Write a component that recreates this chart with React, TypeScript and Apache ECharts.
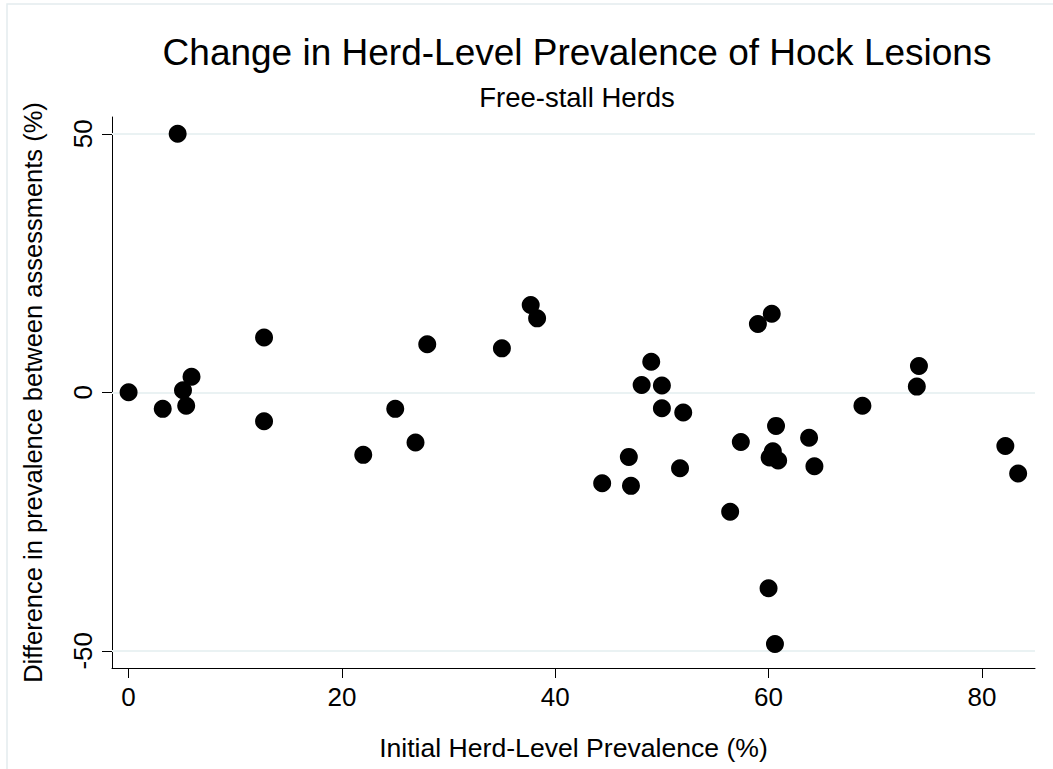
import React, { useEffect, useRef } from "react";
import * as echarts from "echarts";

// Initial herd-level prevalence (%) of hock lesions
const initialPrevalence = [
  0, 3.2, 4.6, 5.1, 5.4, 5.9, 12.7, 12.7, 22.0, 25.0, 26.9, 28.0, 35.0, 37.7, 38.3,
  44.4, 46.9, 47.1, 48.1, 49.0, 50.0, 50.0, 51.7, 52.0, 56.4, 57.4, 59.0, 60.3, 60.0,
  60.6, 60.7, 60.1, 60.4, 60.9, 63.8, 64.3, 68.8, 73.9, 74.1, 82.2, 83.4,
];
// Difference in prevalence between assessments (%)
const prevalenceChange = [
  0, -3.2, 50, 0.4, -2.6, 3.0, 10.6, -5.6, -12.1, -3.2, -9.7, 9.3, 8.5, 16.9, 14.3,
  -17.6, -12.5, -18.1, 1.4, 5.9, 1.3, -3.1, -14.7, -3.9, -23.1, -9.6, 13.2, 15.2, -37.9,
  -48.7, -6.5, -12.6, -11.4, -13.2, -8.8, -14.3, -2.6, 1.1, 5.1, -10.4, -15.7,
];
const xTicks = [0, 20, 40, 60, 80];
const yTicks = [-50, 0, 50];
const yGridLines = [-50, 0, 50];

const titleText = "Change in Herd-Level Prevalence of Hock Lesions";
const subtitleText = "Free-stall Herds";
const xTitle = "Initial Herd-Level Prevalence (%)";
const yTitle = "Difference in prevalence between assessments (%)";

const FONT = '"Liberation Sans", Arial, Helvetica, sans-serif';

export default function App() {
  const ref = useRef<HTMLDivElement>(null);
  useEffect(() => {
    if (!ref.current) return;
    const chart = echarts.init(ref.current, undefined, { renderer: "svg" });
    chart.setOption({
      animation: false,
      backgroundColor: "#ffffff",
      textStyle: { fontFamily: FONT, color: "#000" },
      grid: { left: 112, right: 18, top: 117, bottom: 101, containLabel: false },
      xAxis: {
        type: "value",
        min: -1.556,
        max: 84.98,
        name: xTitle,
        nameLocation: "middle",
        nameGap: 66,
        nameTextStyle: { fontSize: 26.6, color: "#000", fontFamily: FONT },
        axisLine: { show: true, onZero: false, lineStyle: { color: "#000", width: 1 } },
        axisTick: { show: true, length: 10, customValues: xTicks, lineStyle: { color: "#000", width: 1 } },
        axisLabel: { customValues: xTicks, fontSize: 26, color: "#000", margin: 16, fontFamily: FONT },
        splitLine: { show: false },
      },
      yAxis: {
        type: "value",
        min: -53.33,
        max: 53.25,
        name: yTitle,
        nameLocation: "middle",
        nameGap: 66,
        nameTextStyle: { fontSize: 25.5, color: "#000", fontFamily: FONT },
        axisLine: { show: true, onZero: false, lineStyle: { color: "#000", width: 1 } },
        axisTick: { show: true, length: 10, customValues: yTicks, lineStyle: { color: "#000", width: 1 } },
        axisLabel: { customValues: yTicks, rotate: 90, fontSize: 26, color: "#000", margin: 16, fontFamily: FONT },
        splitLine: { show: false },
      },
      graphic: [
        {
          type: "rect",
          silent: true,
          z: -10,
          shape: { x: 7, y: 4, width: 1200, height: 1000 },
          style: { fill: "none", stroke: "#e4ecee", lineWidth: 1.5 },
        },
        {
          type: "text",
          x: 577,
          y: 52,
          style: {
            text: titleText,
            fill: "#000",
            font: `normal 37px ${FONT}`,
            align: "center",
            verticalAlign: "middle",
          },
        },
        {
          type: "text",
          x: 577,
          y: 97,
          style: {
            text: subtitleText,
            fill: "#000",
            font: `normal 27.5px ${FONT}`,
            align: "center",
            verticalAlign: "middle",
          },
        },
      ],
      series: [
        {
          type: "line",
          data: [],
          z: 1,
          silent: true,
          markLine: {
            z: 1,
            silent: true,
            symbol: ["none", "none"],
            label: { show: false },
            lineStyle: { color: "#eaf2f3", width: 2, type: "solid" },
            data: yGridLines.map((v) => ({ yAxis: v })),
          },
        },
        {
          type: "scatter",
          z: 10,
          symbol: "circle",
          symbolSize: 18,
          itemStyle: { color: "#000", opacity: 1 },
          data: initialPrevalence.map((x, i) => [x, prevalenceChange[i]]),
        },
      ],
    });
    return () => chart.dispose();
  }, []);
  return (
    <div
      ref={ref}
      style={{ position: "absolute", left: 0, top: 0, width: 1053, height: 769 }}
    />
  );
}
